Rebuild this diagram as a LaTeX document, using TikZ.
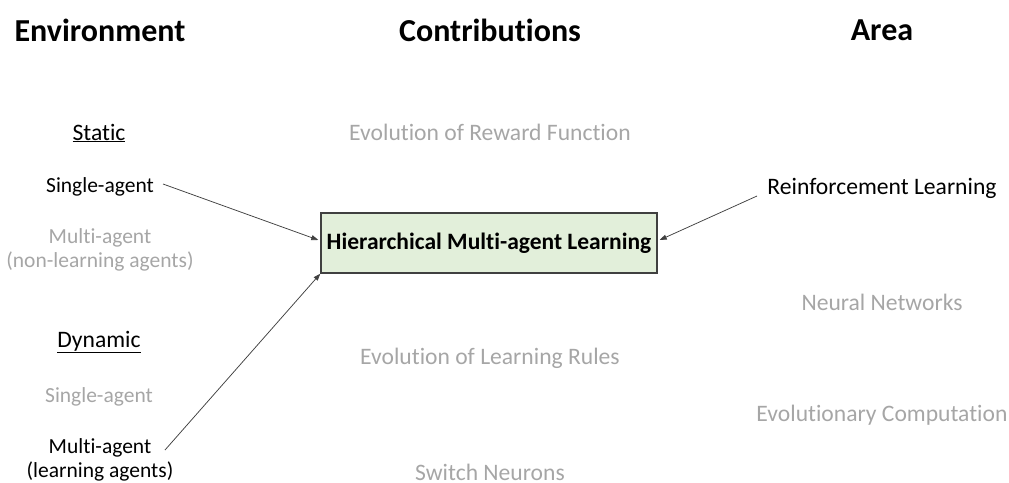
\documentclass[tikz,border=0pt]{standalone}
\usepackage{fontspec}
\setmainfont{Carlito}[Ligatures={NoCommon}]
\usetikzlibrary{arrows.meta}
\definecolor{lightgray}{HTML}{A6A6A6}
\definecolor{boxfill}{HTML}{E2EFDA}
\definecolor{boxline}{HTML}{404040}
\definecolor{arrline}{HTML}{404040}
\begin{document}
\begin{tikzpicture}[x=1pt,y=-1pt,
  hdr/.style={font=\fontsize{32}{36}\selectfont\bfseries, inner sep=0pt},
  txt/.style={font=\fontsize{21.5}{23.5}\selectfont, inner sep=0pt, align=center, text=black},
  big/.style={txt, font=\fontsize{23.6}{25}\selectfont},
  dim/.style={big, text=lightgray},
  dimleft/.style={txt, text=lightgray},
  mainbox/.style={draw=boxline, line width=1.4pt, fill=boxfill, minimum width=336pt, minimum height=60pt, inner sep=0pt, font=\fontsize{23.5}{25}\selectfont\bfseries},
  arr/.style={draw=arrline, line width=0.75pt, -{Triangle[length=7pt,width=5pt]}}
]
\useasboundingbox (0,0) rectangle (1009,482);
% headers
\node[hdr] (henv) at (100,30) {Environment};
\node[hdr] (hcon) at (490,30) {Contributions};
\node[hdr] (hare) at (882,30) {Area};
% left column
\node[big] (static) at (99,133) {\underline{Static}};
\node[txt] (sa1) at (100,187) {Single-agent};
\node[dimleft] (ma1) at (100,250) {Multi-agent\\(non-learning agents)};
\node[big] (dynamic) at (99,342) {\underline{Dynamic}};
\node[dimleft] (sa2) at (99,397) {Single-agent};
\node[txt] (ma2) at (100,460) {Multi-agent\\(learning agents)};
% middle column
\node[dim] (erf) at (490,132) {Evolution of Reward Function};
\node[mainbox] (hml) at (489,243) {Hierarchical Multi-agent Learning};
\node[dim] (elr) at (490,358) {Evolution of Learning Rules};
\node[dim] (sn) at (490,472) {Switch Neurons};
% right column
\node[big] (rl) at (882,188) {Reinforcement Learning};
\node[dim] (nn) at (882,302) {Neural Networks};
\node[dim] (ec) at (882,415) {Evolutionary Computation};
% arrows
\draw[arr] ([xshift=63pt,yshift=3pt]sa1.center) -- ([xshift=-2pt,yshift=3pt]hml.west);
\draw[arr] ([xshift=-125pt,yshift=-8pt]rl.center) -- ([xshift=2pt,yshift=3pt]hml.east);
\draw[arr] ([xshift=65pt,yshift=10pt]ma2.center) -- (hml.south west);
\end{tikzpicture}
\end{document}
